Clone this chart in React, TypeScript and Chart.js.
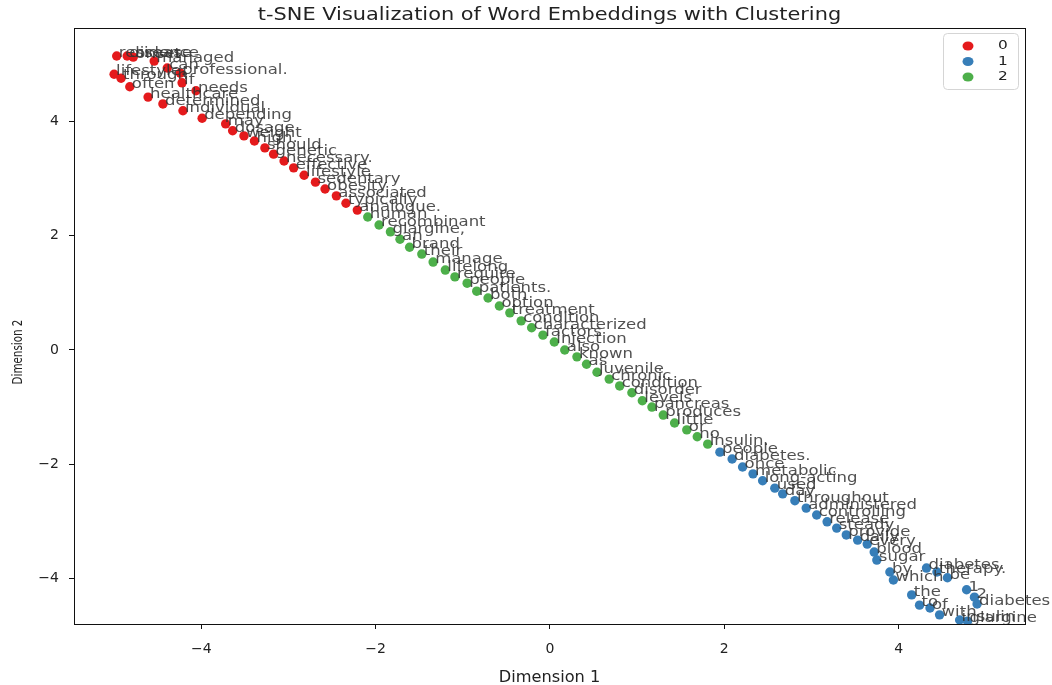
import React, { useEffect, useRef } from "react";
import { Chart, registerables } from "chart.js";

Chart.register(...registerables);

const titleText = "t-SNE Visualization of Word Embeddings with Clustering";
const xAxisTitle = "Dimension 1";
const yAxisTitle = "Dimension 2";
const clusterNames = ["0", "1", "2"];
const clusterColors = ["#e41a1c", "#377eb8", "#4daf4a"];
const xTicks = [-4, -2, 0, 2, 4];
const yTicks = [-4, -2, 0, 2, 4];

// Cluster 0 (red)
const words0 = ["residence", "disease", "onset", "managed", "can", "lifestyle.", "through", "professional.", "if", "often", "needs", "healthcare", "determined", "individual", "depending", "may", "dosage", "weight", "high.", "should", "genetic", "necessary.", "effective", "lifestyle", "sedentary", "obesity", "associated", "typically", "analogue."];
const x0 = [-4.97, -4.85, -4.78, -4.54, -4.39, -5.0, -4.92, -4.24, -4.22, -4.82, -4.06, -4.61, -4.44, -4.21, -3.99, -3.72, -3.64, -3.51, -3.39, -3.27, -3.17, -3.05, -2.94, -2.82, -2.69, -2.58, -2.45, -2.34, -2.21];
const y0 = [5.15, 5.15, 5.13, 5.06, 4.94, 4.83, 4.76, 4.85, 4.68, 4.61, 4.54, 4.43, 4.31, 4.19, 4.06, 3.96, 3.84, 3.75, 3.66, 3.54, 3.43, 3.31, 3.19, 3.06, 2.94, 2.82, 2.7, 2.57, 2.45];

// Cluster 1 (blue)
const words1 = ["people", "diabetes.", "once", "metabolic", "long-acting", "used", "day", "throughout", "administered", "controlling", "release", "steady", "provide", "daily", "every", "blood", "sugar", "by", "which", "diabetes.", "therapy.", "be", "the", "to", "of", "1", "2", "diabetes", "with", "insulin", "glargine"];
const x1 = [1.95, 2.09, 2.21, 2.33, 2.44, 2.58, 2.67, 2.81, 2.94, 3.06, 3.18, 3.29, 3.4, 3.53, 3.64, 3.72, 3.75, 3.9, 3.94, 4.32, 4.44, 4.56, 4.15, 4.24, 4.36, 4.78, 4.87, 4.9, 4.47, 4.7, 4.79];
const y1 = [-1.79, -1.91, -2.05, -2.17, -2.29, -2.42, -2.52, -2.64, -2.77, -2.89, -3.01, -3.12, -3.24, -3.33, -3.4, -3.54, -3.68, -3.89, -4.03, -3.82, -3.89, -3.99, -4.29, -4.47, -4.52, -4.2, -4.33, -4.45, -4.64, -4.73, -4.75];

// Cluster 2 (green)
const words2 = ["human", "recombinant", "glargine,", "an", "brand", "their", "manage", "lifelong", "require", "people", "patients.", "both", "option", "treatment", "condition", "characterized", "factors", "injection", "also", "known", "as", "juvenile", "chronic", "condition", "disorder", "levels", "pancreas", "produces", "little", "or", "no", "insulin."];
const x2 = [-2.09, -1.96, -1.83, -1.72, -1.61, -1.47, -1.34, -1.2, -1.09, -0.95, -0.84, -0.71, -0.58, -0.46, -0.33, -0.21, -0.08, 0.05, 0.17, 0.31, 0.42, 0.54, 0.68, 0.8, 0.94, 1.06, 1.17, 1.3, 1.43, 1.57, 1.69, 1.81];
const y2 = [2.33, 2.19, 2.07, 1.94, 1.8, 1.68, 1.54, 1.4, 1.28, 1.17, 1.03, 0.91, 0.77, 0.65, 0.51, 0.39, 0.26, 0.14, 0.0, -0.12, -0.25, -0.39, -0.51, -0.63, -0.75, -0.89, -1.0, -1.14, -1.28, -1.4, -1.52, -1.65];

const allWords = [words0, words1, words2];
const allX = [x0, x1, x2];
const allY = [y0, y1, y2];

const FONT = "'DejaVu Sans', 'Liberation Sans', sans-serif";
const STRETCH = 1.18;

function fmtTick(v: number) {
  return v < 0 ? "\u2212" + Math.abs(v) : String(v);
}

function drawStretched(ctx: CanvasRenderingContext2D, text: string, x: number, y: number, sx: number) {
  ctx.save();
  ctx.translate(x, y);
  ctx.scale(sx, 1);
  ctx.fillText(text, 0, 0);
  ctx.restore();
}

const decorPlugin = {
  id: "decor",
  afterDatasetsDraw(chart: any) {
    const ctx: CanvasRenderingContext2D = chart.ctx;
    ctx.save();
    ctx.font = `14px ${FONT}`;
    ctx.fillStyle = "rgba(50,50,50,0.85)";
    ctx.textAlign = "left";
    ctx.textBaseline = "alphabetic";
    chart.data.datasets.forEach((ds: any, i: number) => {
      const meta = chart.getDatasetMeta(i);
      meta.data.forEach((el: any, j: number) => {
        drawStretched(ctx, allWords[i][j], el.x + 2, el.y + 1, STRETCH);
      });
    });
    ctx.restore();
  },
  afterDraw(chart: any) {
    const ctx: CanvasRenderingContext2D = chart.ctx;
    const a = chart.chartArea;
    ctx.save();
    // frame
    ctx.strokeStyle = "#111";
    ctx.lineWidth = 1;
    ctx.strokeRect(Math.round(a.left) + 0.5, Math.round(a.top) + 0.5, Math.round(a.right - a.left), Math.round(a.bottom - a.top));
    // title
    ctx.fillStyle = "#222";
    ctx.font = `18px ${FONT}`;
    ctx.textAlign = "center";
    ctx.textBaseline = "middle";
    drawStretched(ctx, titleText, (a.left + a.right) / 2, 15, 1.16);
    // x axis title
    ctx.font = `15px ${FONT}`;
    drawStretched(ctx, xAxisTitle, (a.left + a.right) / 2, 678, 1.08);
    // y axis title
    ctx.save();
    ctx.translate(18, 352);
    ctx.scale(1.3, 1);
    ctx.rotate(-Math.PI / 2);
    ctx.font = `11.5px 'DejaVu Sans Condensed', ${FONT}`;
    ctx.fillText(yAxisTitle, 0, 0);
    ctx.restore();
    // legend
    const lx = a.right - 82, ly = a.top + 5, lw = 75, lh = 56;
    ctx.beginPath();
    (ctx as any).roundRect(lx + 0.5, ly + 0.5, lw, lh, 4);
    ctx.fillStyle = "rgba(255,255,255,0.8)";
    ctx.fill();
    ctx.strokeStyle = "#d5d5d5";
    ctx.stroke();
    ctx.font = `13px ${FONT}`;
    chart.data.datasets.forEach((ds: any, i: number) => {
      const cy = ly + 13 + i * 15.5;
      ctx.beginPath();
      ctx.fillStyle = ds.backgroundColor;
      ctx.ellipse(lx + 25, cy, 5.5, 4.5, 0, 0, Math.PI * 2);
      ctx.fill();
      ctx.fillStyle = "#222";
      ctx.textAlign = "center";
      ctx.textBaseline = "middle";
      drawStretched(ctx, ds.label, lx + 60, cy, STRETCH);
    });
    ctx.restore();
  },
};

export default function App() {
  const ref = useRef<HTMLCanvasElement | null>(null);
  useEffect(() => {
    if (!ref.current) return;
    const datasets = clusterNames.map((name, i) => ({
      label: name,
      data: allX[i].map((x, j) => ({ x, y: allY[i][j] })),
      backgroundColor: clusterColors[i],
      borderColor: clusterColors[i],
      pointRadius: 4.7,
      borderWidth: 0,
    }));
    const chart = new Chart(ref.current, {
      type: "scatter",
      data: { datasets },
      plugins: [decorPlugin],
      options: {
        animation: false,
        responsive: false,
        devicePixelRatio: 1,
        layout: { padding: { top: 28, right: 27, left: 0, bottom: 0 } },
        plugins: { legend: { display: false }, title: { display: false }, tooltip: { enabled: false } },
        scales: {
          x: {
            type: "linear",
            min: -5.46,
            max: 5.45,
            afterBuildTicks: (s: any) => { s.ticks = xTicks.map((v) => ({ value: v })); },
            afterFit: (s: any) => { s.height = 61; },
            grid: { display: true, drawOnChartArea: false, drawTicks: true, tickLength: 5, tickColor: "#111", tickWidth: 1 },
            border: { display: true, color: "#111", width: 1 },
            ticks: { color: "#222", font: { family: FONT, size: 14 }, padding: 12, maxRotation: 0, callback: (v: any) => fmtTick(Number(v)) },
          },
          y: {
            type: "linear",
            min: -4.8,
            max: 5.64,
            afterBuildTicks: (s: any) => { s.ticks = yTicks.map((v) => ({ value: v })); },
            afterFit: (s: any) => { s.width = 74; },
            grid: { display: true, drawOnChartArea: false, drawTicks: true, tickLength: 5, tickColor: "#111", tickWidth: 1 },
            border: { display: true, color: "#111", width: 1 },
            ticks: { color: "#222", font: { family: FONT, size: 14 }, padding: 10, callback: (v: any) => fmtTick(Number(v)) },
          },
        },
      } as any,
    });
    return () => chart.destroy();
  }, []);
  return (
    <canvas
      ref={ref}
      width={1052}
      height={685}
      style={{ position: "fixed", left: 0, top: 0, width: 1052, height: 685, background: "#fff" }}
    />
  );
}
